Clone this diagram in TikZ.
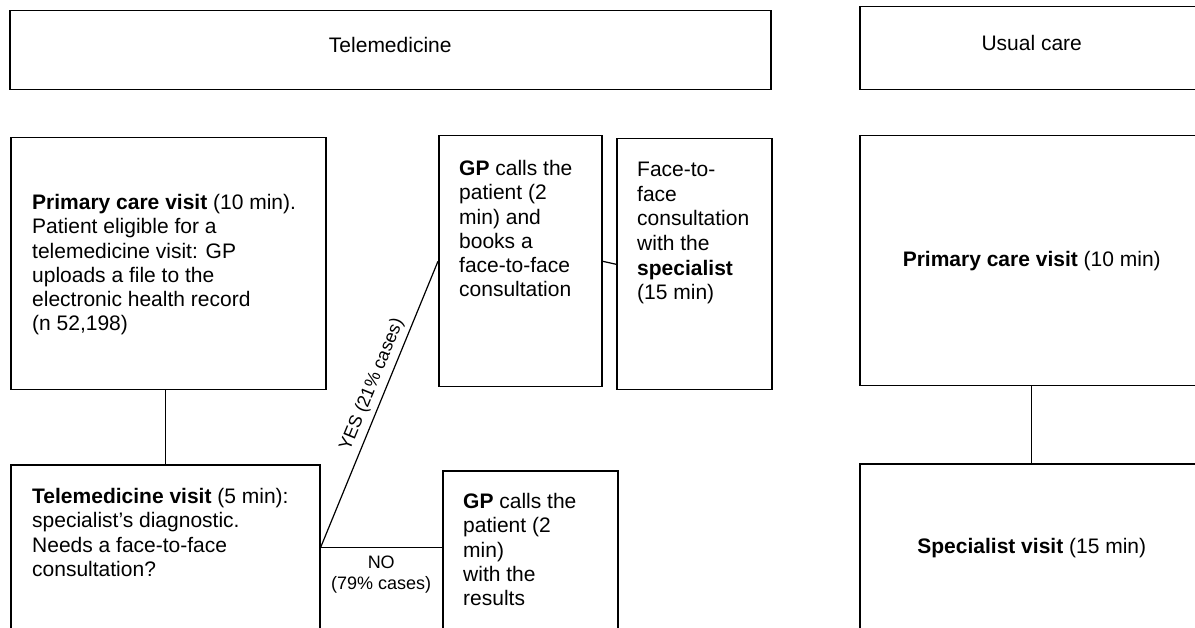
\documentclass[tikz,border=0pt]{standalone}
\usepackage{fontspec}
\setmainfont{Liberation Sans}

\begin{document}
\begin{tikzpicture}[x=1pt,y=-1pt,
    box/.style={draw, line width=1.5pt, anchor=north west, inner sep=0pt},
    head/.style={box, text depth=10pt, font=\fontsize{21}{24.3}\selectfont},
    txt/.style={anchor=north west, align=left, inner sep=0pt, font=\fontsize{21}{24.3}\selectfont},
    link/.style={line width=1.2pt},
    small/.style={font=\fontsize{18}{21}\selectfont, inner sep=3pt}]
  \useasboundingbox (0,0) rectangle (1195,628);
  \clip (0,0) rectangle (1195,628);
  % headers
  \node[head, minimum width=761pt, minimum height=79pt] (tele) at (9,10) {Telemedicine};
  \node[head, minimum width=344pt, minimum height=83pt] (usual) at (859,6) {Usual care};
  % telemedicine boxes
  \node[box, minimum width=315pt, minimum height=252pt] (prim) at (10,137) {};
  \node[box, minimum width=163pt, minimum height=251pt] (gpyes) at (438,135) {};
  \node[box, minimum width=155pt, minimum height=251pt] (face) at (616,138) {};
  \node[box, minimum width=309pt, minimum height=166pt] (visit) at (10,464) {};
  \node[box, minimum width=175pt, minimum height=170pt] (gpno) at (442,470) {};
  \node[txt] (primt) at (32,194) {\textbf{Primary care visit} (10 min).\\Patient eligible for a\\telemedicine visit: GP\\uploads a file to the\\electronic health record\\(n 52,198)};
  \node[txt] (gpyest) at (459,160) {\textbf{GP} calls the\\patient (2\\min) and\\books a\\face-to-face\\consultation};
  \node[txt, font=\fontsize{21}{24.6}\selectfont] (facet) at (637,162) {Face-to-\\face\\consultation\\with the\\\textbf{specialist}\\(15 min)};
  \node[txt] (visitt) at (32,488) {\textbf{Telemedicine visit} (5 min):\\specialist’s diagnostic.\\Needs a face-to-face\\consultation?};
  \node[txt] (gpnot) at (463,493) {\textbf{GP} calls the\\patient (2\\min)\\with the\\results};
  % usual care boxes
  \node[box, minimum width=344pt, minimum height=250pt, font=\fontsize{21}{24.3}\selectfont] (uprim) at (859,135) {\textbf{Primary care visit} (10 min)};
  \node[box, minimum width=344pt, minimum height=168pt, font=\fontsize{21}{24.3}\selectfont] (uspec) at (859,463) {\textbf{Specialist visit} (15 min)};
  % connectors
  \draw[link] (visit.north) -- (visit.north |- prim.south);
  \draw[link] (visit.east) -- node[small, sloped, above, pos=0.55, inner sep=5pt] {YES (21\% cases)} (gpyes.west);
  \draw[link] (visit.east) -- node[small, below=5pt, align=center] {NO\\(79\% cases)} (visit.east -| gpno.west);
  \draw[link] (gpyes.east) -- (face.west);
  \draw[link] (uprim.south) -- (uspec.north);
\end{tikzpicture}
\end{document}
